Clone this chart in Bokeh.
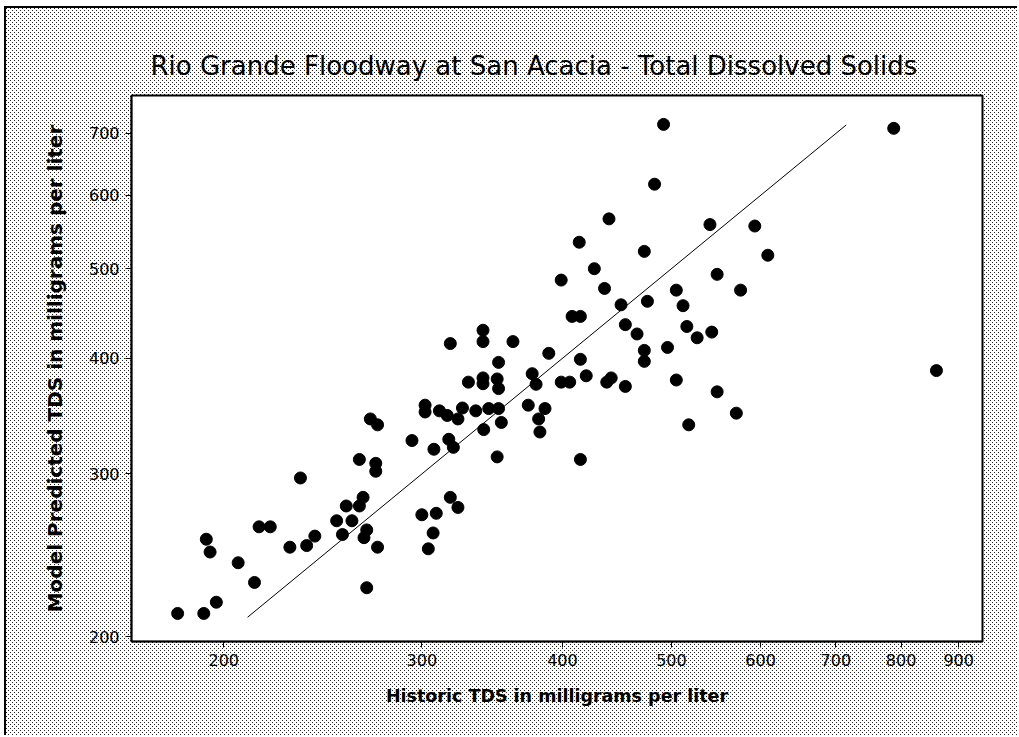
import base64
from bokeh.plotting import figure
from bokeh.models import Range1d, FixedTicker, NumeralTickFormatter, ColumnDataSource
from bokeh.embed import file_html
from bokeh.resources import INLINE

# ---------------- data ----------------
historic_tds = [
    182, 192, 197, 193, 194.5, 206, 213, 215, 220, 229,
    234, 237, 241, 252, 255, 257, 260, 264, 266, 264,
    270, 274, 273, 273, 268, 266.5, 274, 268, 294, 302,
    302, 300, 304, 307, 307.5, 311, 316, 323, 326, 335,
    344, 351, 353, 340.5, 317, 320, 350, 318, 323, 309,
    330, 340, 340, 350, 351, 351, 340, 340, 318, 361.5,
    373, 386, 381, 382, 376, 379, 389, 399, 406, 415,
    420, 438, 442, 455, 415, 518, 571, 549, 505, 473,
    473, 496, 527, 543, 516, 466, 455, 451, 476, 408,
    415, 399, 436, 427, 414, 440, 473, 483, 492, 505,
    512, 541, 549, 576, 593, 609, 788, 860,
]
predicted_tds = [
    212, 212, 218, 255, 247, 240.5, 229, 263, 263, 250,
    297, 251, 257, 267, 258, 277, 267, 277, 283, 311,
    344, 339, 308, 302, 261, 256, 250, 226, 326, 356,
    350, 271, 249, 259, 319, 351, 347, 344, 353.5, 351,
    353, 353, 341, 335, 327, 320.5, 313, 283, 276, 272,
    377, 381, 375.5, 380, 371, 396, 429, 417, 415, 417,
    356, 353, 344, 333, 385, 375, 405, 377, 377, 399,
    383, 377, 381, 373, 311, 339, 349, 368, 379, 408,
    397, 411, 421, 427, 433, 425, 435, 457, 461, 444,
    444, 486, 476, 500, 534, 566, 522, 617, 716, 474,
    456, 558, 493, 474, 556, 517, 709, 388,
]
line_x = [210, 715]
line_y = [210, 715]
x_ticks = [200, 300, 400, 500, 600, 700, 800, 900]
y_ticks = [200, 300, 400, 500, 600, 700]

title_text = "Rio Grande Floodway at San Acacia - Total Dissolved Solids"
x_label = "Historic TDS in milligrams per liter"
y_label = "Model Predicted TDS in milligrams per liter"

# ---------------- figure ----------------
FONT = "DejaVu Sans"

p = figure(
    width=1013, height=729,
    x_axis_type="log", y_axis_type="log",
    x_range=Range1d(165.6, 945), y_range=Range1d(197.7, 769.4),
    output_backend="svg", toolbar_location=None,
    min_border_left=125, min_border_right=37,
    min_border_top=87, min_border_bottom=96,
)

# dotted background pattern around the plot (CSS on the host element)
pattern_svg = (
    "<svg xmlns='http://www.w3.org/2000/svg' width='4' height='4' shape-rendering='crispEdges'>"
    "<rect width='4' height='4' fill='white'/>"
    "<rect x='0' y='0' width='1' height='1' fill='#222'/>"
    "<rect x='2' y='2' width='1' height='1' fill='#222'/>"
    "</svg>"
)
b64 = base64.b64encode(pattern_svg.encode()).decode()
p.styles = {
    "background-color": "white",
    "background-image": f"url('data:image/svg+xml;base64,{b64}')",
    "border-top": "2px solid black",
    "border-left": "2px solid black",
    "margin-left": "4px",
    "margin-top": "6px",
}

p.border_fill_color = None
p.background_fill_color = "white"
p.outline_line_color = "black"
p.outline_line_width = 2
p.grid.visible = False

# title
p.title.text = title_text
p.title.align = "left"
p.title.offset = 19
p.title.text_font = FONT
p.title.text_font_size = "26px"
p.title.text_font_style = "normal"
p.title.text_color = "black"
p.title.standoff = 29

# axes
for ax in (p.xaxis[0], p.yaxis[0]):
    ax.major_label_text_font = FONT
    ax.major_label_text_font_size = "16px"
    ax.major_label_text_color = "black"
    ax.axis_label_text_font = FONT
    ax.axis_label_text_font_style = "bold"
    ax.axis_label_text_color = "black"
    ax.axis_line_color = "black"
    ax.axis_line_width = 1.5
    ax.major_tick_line_color = "black"
    ax.major_tick_out = 6
    ax.major_tick_in = 0
    ax.minor_tick_line_color = None
    ax.formatter = NumeralTickFormatter(format="0")
    ax.major_label_standoff = 6

p.xaxis.ticker = FixedTicker(ticks=x_ticks)
p.yaxis.ticker = FixedTicker(ticks=y_ticks)
p.xaxis.axis_label = x_label
p.yaxis.axis_label = y_label
p.xaxis.axis_label_text_font_size = "17.5px"
p.yaxis.axis_label_text_font_size = "20px"
p.xaxis.axis_label_standoff = 17
p.yaxis.axis_label_standoff = 19

# data
src = ColumnDataSource(dict(x=historic_tds, y=predicted_tds))
p.line(line_x, line_y, line_color="black", line_width=1)
p.scatter("x", "y", source=src, size=12, fill_color="black", line_color="black")

open("out.html", "w").write(file_html(p, INLINE))
